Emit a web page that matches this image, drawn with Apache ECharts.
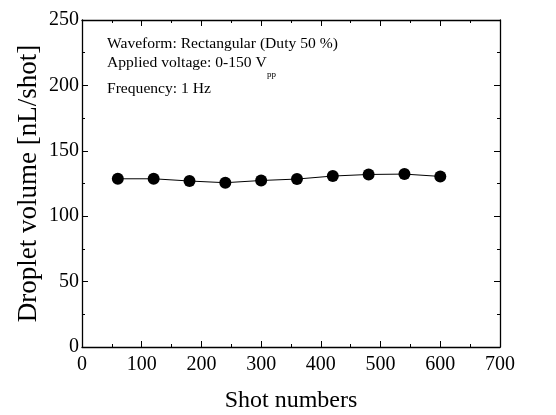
<!DOCTYPE html>
<html><head><meta charset="utf-8">
<script src="https://cdn.jsdelivr.net/npm/echarts@6/dist/echarts.min.js"></script>
<style>html,body{margin:0;padding:0;background:#fff}#c{width:556px;height:415px}</style>
</head><body><div id="c"></div>
<script>
var shots = [60, 120, 180, 240, 300, 360, 420, 480, 540, 600];
var volume = [128.6, 128.6, 126.9, 125.6, 127.3, 128.4, 130.7, 131.9, 132.2, 130.4];
var xTicks = [0, 100, 200, 300, 400, 500, 600, 700];
var yTicks = [0, 50, 100, 150, 200, 250];

var F = '"Liberation Serif", "DejaVu Serif", serif';
var chart = echarts.init(document.getElementById('c'));
var axisCommon = {
  axisLine: {show: true, onZero: false, lineStyle: {color: '#000', width: 1.3}},
  axisTick: {show: true, inside: true, length: 6, lineStyle: {color: '#000', width: 1}},
  minorTick: {show: true, splitNumber: 2, length: 3, lineStyle: {color: '#000', width: 1}},
  splitLine: {show: false}
};
chart.setOption({
  animation: false,
  grid: {left: 82, right: 56, top: 20, bottom: 68, containLabel: false, outerBoundsMode: 'none'},
  xAxis: [
    Object.assign({type: 'value', min: xTicks[0], max: xTicks[xTicks.length-1], interval: 100,
      name: 'Shot numbers', nameLocation: 'middle', nameGap: 42, nameMoveOverlap: false,
      nameTextStyle: {fontFamily: F, fontSize: 24, color: '#000'},
      axisLabel: {fontFamily: F, fontSize: 20, color: '#000', margin: 8}}, axisCommon),
    Object.assign({type: 'value', position: 'top', min: xTicks[0], max: xTicks[xTicks.length-1], interval: 100,
      axisLabel: {show: false}}, axisCommon)
  ],
  yAxis: [
    Object.assign({type: 'value', min: yTicks[0], max: yTicks[yTicks.length-1], interval: 50,
      name: 'Droplet volume [nL/shot]', nameLocation: 'middle', nameGap: 40, nameMoveOverlap: false,
      nameTextStyle: {fontFamily: F, fontSize: 27, color: '#000'},
      axisLabel: {fontFamily: F, fontSize: 20, color: '#000', margin: 3}}, axisCommon),
    Object.assign({type: 'value', position: 'right', min: yTicks[0], max: yTicks[yTicks.length-1], interval: 50,
      axisLabel: {show: false}}, axisCommon)
  ],
  graphic: [
    {type: 'text', left: 107, top: 36, style: {text: 'Waveform: Rectangular (Duty 50 %)', font: '15.6px ' + F, fill: '#000'}},
    {type: 'text', left: 107, top: 55, style: {text: 'Applied voltage: 0-150 V', font: '15.6px ' + F, fill: '#000'}},
    {type: 'text', left: 267, top: 70, style: {text: 'pp', font: '9px ' + F, fill: '#000'}},
    {type: 'text', left: 107, top: 81, style: {text: 'Frequency: 1 Hz', font: '15.6px ' + F, fill: '#000'}}
  ],
  series: [{
    type: 'line',
    data: shots.map(function(s, i){ return [s, volume[i]]; }),
    symbol: 'circle', symbolSize: 12,
    lineStyle: {color: '#000', width: 1},
    itemStyle: {color: '#000'}
  }]
});
</script></body></html>
